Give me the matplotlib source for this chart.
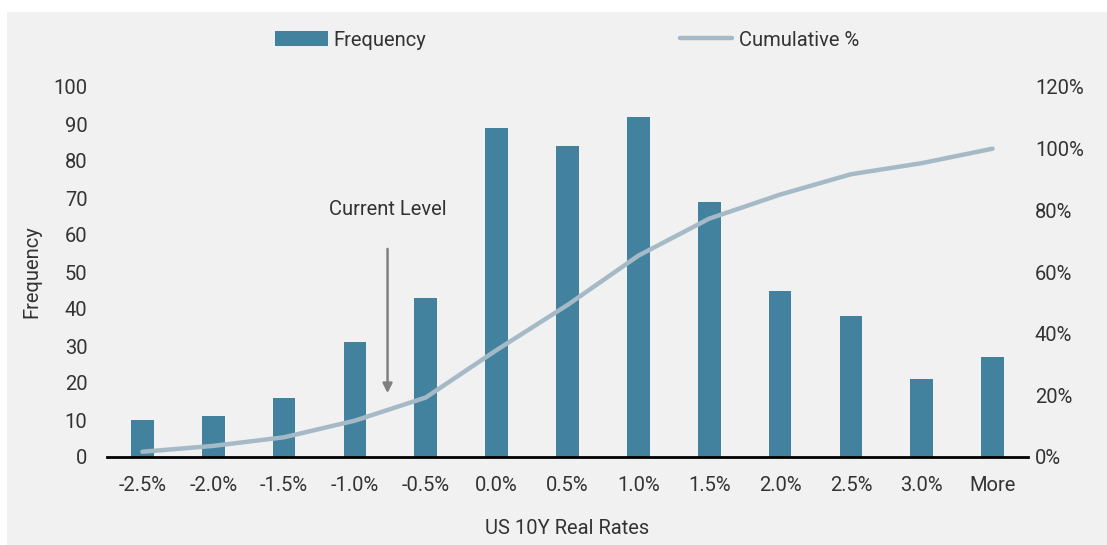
import numpy as np
import matplotlib.pyplot as plt
from matplotlib.patches import Rectangle
from matplotlib.lines import Line2D
from matplotlib.ticker import FuncFormatter

plt.rcParams['font.family'] = ['Roboto', 'DejaVu Sans']

# histogram of US 10Y real rates
bins = ["-2.5%", "-2.0%", "-1.5%", "-1.0%", "-0.5%", "0.0%", "0.5%",
        "1.0%", "1.5%", "2.0%", "2.5%", "3.0%", "More"]
frequency = [10, 11, 16, 31, 43, 89, 84, 92, 69, 45, 38, 21, 27]
cumulative = [1.7, 3.6, 6.4, 11.8, 19.3, 34.7, 49.3, 65.3, 77.3, 85.1, 91.7, 95.3, 100.0]

bar_color = "#43829f"
line_color = "#a5bac6"
text_color = "#333333"
fs = 14.5

fig = plt.figure(figsize=(11.07, 5.45), dpi=100)
fig.patch.set_facecolor("white")
fig.patches.append(Rectangle((7 / 1107, 0), 1, 1 - 12 / 545, transform=fig.transFigure,
                             facecolor="#f1f1f1", edgecolor="none", zorder=-10))

ax = fig.add_axes([107 / 1107, 1 - 457 / 545, (1028 - 107) / 1107, (457 - 87) / 545])
ax.set_facecolor("none")
x = np.arange(len(bins))
ax.bar(x, frequency, width=0.32, color=bar_color, zorder=2)
ax.set_xlim(-0.5, len(bins) - 0.5)
ax.set_ylim(0, 100)
ax.set_yticks(range(0, 101, 10))
ax.set_xticks(x)
ax.set_xticklabels(bins)
for s in ["top", "right", "left"]:
    ax.spines[s].set_visible(False)
ax.spines["bottom"].set_linewidth(2)
ax.spines["bottom"].set_color("black")
ax.tick_params(axis="both", length=0, labelsize=fs, labelcolor=text_color)
ax.tick_params(axis="x", pad=14)
ax.tick_params(axis="y", pad=14)
ax.set_xlabel("US 10Y Real Rates", fontsize=fs, color=text_color, labelpad=17)
ax.set_ylabel("Frequency", fontsize=fs, color=text_color, labelpad=9)

ax2 = ax.twinx()
ax2.plot(x, cumulative, color=line_color, lw=3.2, solid_capstyle="round", zorder=3)
ax2.set_ylim(0, 120)
ax2.set_yticks(range(0, 121, 20))
ax2.yaxis.set_major_formatter(FuncFormatter(lambda v, p: f"{v:.0f}%"))
for s in ["top", "right", "left", "bottom"]:
    ax2.spines[s].set_visible(False)
ax2.tick_params(axis="y", length=0, labelsize=fs, labelcolor=text_color, pad=5)

# current level marker
ax.annotate("", xy=(3.46, 16.5), xytext=(3.46, 57),
            arrowprops=dict(arrowstyle="-|>", color="#808080", lw=1.8, mutation_scale=14),
            zorder=4)
ax.text(3.46, 66.8, "Current Level", ha="center", va="center", fontsize=fs, color=text_color)

handles = [Rectangle((0, 0), 1, 1, facecolor=bar_color),
           Line2D([0], [0], color=line_color, lw=3.2, solid_capstyle="round")]
fig.legend(handles, ["Frequency", "Cumulative %"], loc="center", ncol=2,
           bbox_to_anchor=(567 / 1107, 1 - 40 / 545), frameon=False, fontsize=fs,
           handlelength=2.6, handletextpad=0.3, columnspacing=12.6, labelcolor=text_color)

fig.savefig("out.png", dpi=100, facecolor=fig.get_facecolor())
